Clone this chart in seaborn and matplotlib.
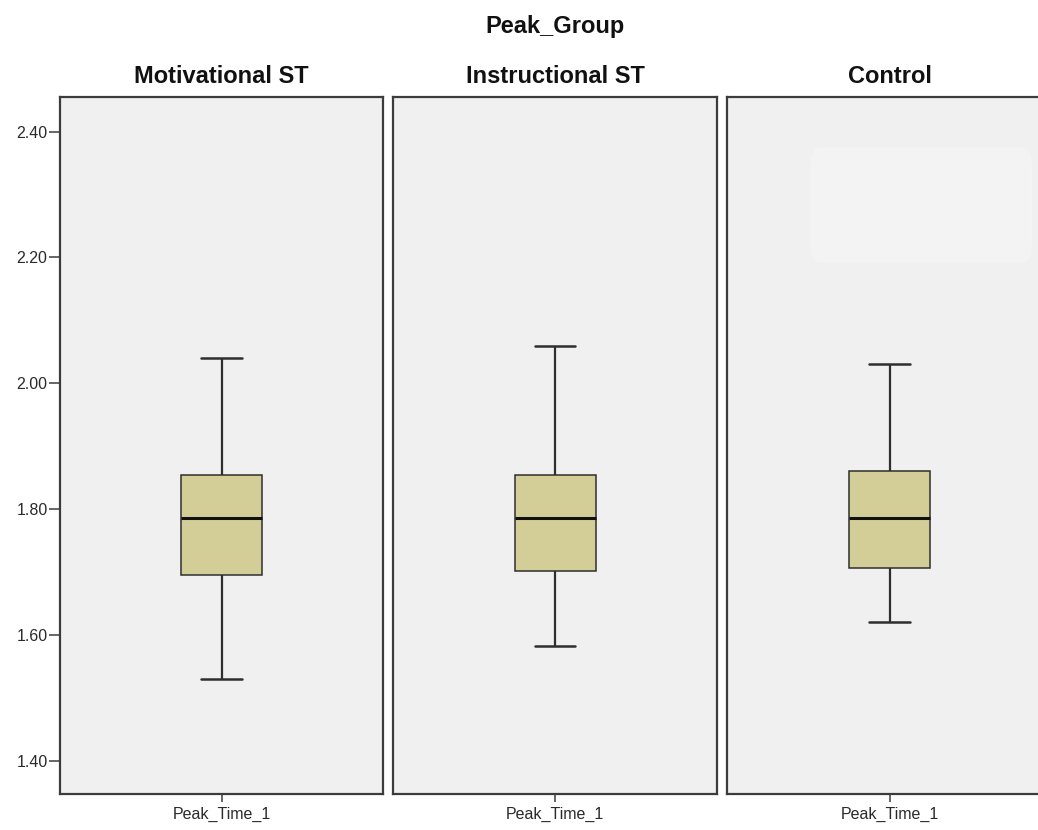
import numpy as np
import pandas as pd
import matplotlib
matplotlib.use("Agg")
import matplotlib.pyplot as plt
from matplotlib.patches import FancyBboxPatch
import seaborn as sns

# ---- data (five-number summaries) ----
groups = ["Motivational ST", "Instructional ST", "Control"]
variable = "Peak_Time_1"
motivational = [1.531, 1.695, 1.786, 1.855, 2.040]
instructional = [1.582, 1.702, 1.786, 1.855, 2.060]
control = [1.621, 1.706, 1.786, 1.861, 2.031]
yticks = [1.40, 1.60, 1.80, 2.00, 2.20, 2.40]
ytick_labels = ["1.40", "1.60", "1.80", "2.00", "2.20", "2.40"]
facet_title = "Peak_Group"

sns.set_style("white")
plt.rcParams["font.family"] = ["Liberation Sans", "DejaVu Sans"]

series = [motivational, instructional, control]
df = pd.DataFrame({
    "group": np.repeat(groups, [len(s) for s in series]),
    "variable": variable,
    "value": np.concatenate(series),
})

W, H = 1038, 830
fig = plt.figure(figsize=(W / 100, H / 100), dpi=100)
fig.patch.set_facecolor("white")

lefts = [60, 393, 727]
widths = [323, 324, 325]
top, bottom = 97, 794
fill = "#D3CE98"
edge = "#2e2e2e"
frame = "#3c3c3c"

axes = []
for i, g in enumerate(groups):
    ax = fig.add_axes([lefts[i] / W, 1 - bottom / H, widths[i] / W, (bottom - top) / H])
    ax.set_facecolor("#F0F0F0")
    sub = df[df["group"] == g]
    sns.boxplot(data=sub, x="variable", y="value", ax=ax, width=0.25,
                whis=(0, 100), color=fill, saturation=1, linecolor=edge,
                linewidth=1.2,
                boxprops=dict(linewidth=1.1),
                whiskerprops=dict(linewidth=1.6),
                capprops=dict(linewidth=1.8),
                medianprops=dict(linewidth=2.2, color="#111111"))
    ax.set_xlim(-0.5, 0.5)
    ax.set_ylim(1.3476, 2.455)
    ax.set_xlabel("")
    ax.set_ylabel("")
    for sp in ax.spines.values():
        sp.set_visible(True)
        sp.set_color(frame)
        sp.set_linewidth(1.6)
    ax.tick_params(axis="x", length=6, width=1.1, color=frame, pad=3,
                   labelsize=11.5, labelcolor="#2a2a2a", bottom=True)
    if i == 0:
        ax.set_yticks(yticks)
        ax.set_yticklabels(ytick_labels)
        ax.tick_params(axis="y", length=8, width=1.1, color=frame, pad=1,
                       labelsize=11.5, labelcolor="#2a2a2a", left=True)
    else:
        ax.set_yticks([])
    cx = (lefts[i] + widths[i] / 2) / W
    fig.text(cx, 1 - 83 / H, g, ha="center", va="baseline",
             fontsize=17, fontweight="bold", color="#111111")
    axes.append(ax)

# faint rounded rectangle (empty legend area) in last panel
axes[2].add_patch(FancyBboxPatch((0.27, 0.775), 0.655, 0.14,
                                 boxstyle="round,pad=0.012,rounding_size=0.03",
                                 transform=axes[2].transAxes,
                                 facecolor="#F3F3F3", edgecolor="#F4F4F4",
                                 linewidth=0.8, zorder=0.5))

fig.text(555 / W, 1 - 33 / H, facet_title, ha="center", va="baseline",
         fontsize=17, fontweight="bold", color="#111111")

fig.savefig("out.png", dpi=100, facecolor="white")
